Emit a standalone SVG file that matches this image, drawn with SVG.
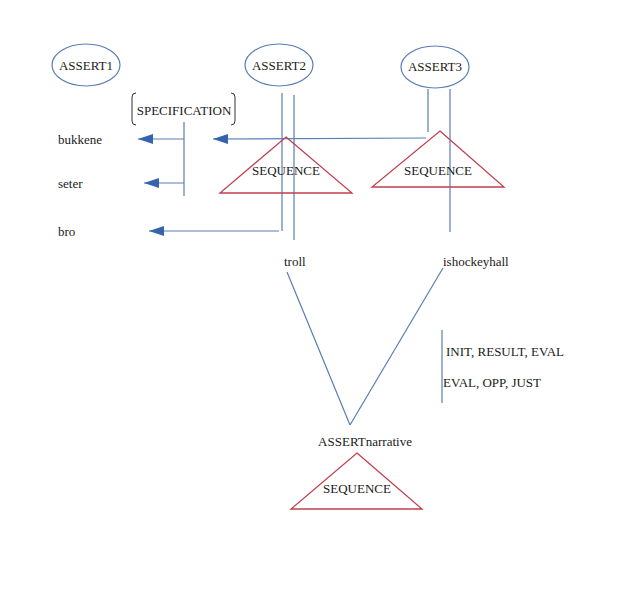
<svg xmlns="http://www.w3.org/2000/svg" width="643" height="600" viewBox="0 0 643 600">
<defs>
<marker id="ah" markerWidth="16" markerHeight="12" refX="15" refY="5" orient="auto" markerUnits="userSpaceOnUse">
<path d="M0,0 L15,5 L0,10 Z" fill="#3563ad"/>
</marker>
<style>
.t{font-family:'Liberation Serif','Times New Roman','DejaVu Serif',serif;font-size:13px;fill:#1a1a1a}
.c{text-anchor:middle}
.ln{stroke:#5a7db3;stroke-width:1.2;fill:none}
.el{stroke:#5a7db3;stroke-width:1.2;fill:#fff}
.tri{stroke:#c0404f;stroke-width:1.3;fill:none}
.arr{stroke:#5a7db3;stroke-width:1.2;fill:none;marker-end:url(#ah)}
</style>
</defs>
<rect width="643" height="600" fill="#fff"/>
<g id="connectors">
<line class="ln" x1="282" y1="93" x2="282" y2="231"/>
<line class="ln" x1="294" y1="95" x2="294" y2="240"/>
<line class="ln" x1="428" y1="89" x2="428" y2="132"/>
<line class="ln" x1="450" y1="89" x2="450" y2="232"/>
<line class="ln" x1="184" y1="122" x2="184" y2="196"/>
<line class="arr" x1="184" y1="139" x2="138" y2="139"/>
<line class="arr" x1="184" y1="183" x2="144" y2="183"/>
<line class="arr" x1="426" y1="138" x2="213" y2="139"/>
<line class="arr" x1="279" y1="231" x2="149" y2="231"/>
<line class="ln" x1="287" y1="272" x2="350" y2="425"/>
<line class="ln" x1="443" y1="268" x2="350" y2="425"/>
<line class="ln" x1="442" y1="330" x2="442" y2="403"/>
</g>
<g class="t" font-family="Liberation Serif, Times New Roman, DejaVu Serif, serif" font-size="13">
<g id="assert1"><ellipse class="el" cx="86" cy="65" rx="34" ry="21"/><text class="t c" x="86" y="70">ASSERT1</text></g>
<g id="assert2"><ellipse class="el" cx="279" cy="65" rx="34" ry="21"/><text class="t c" x="279" y="70">ASSERT2</text></g>
<g id="assert3"><ellipse class="el" cx="435" cy="67" rx="34" ry="21"/><text class="t c" x="435" y="71">ASSERT3</text></g>
<g id="specification">
<path d="M136,93 Q132,93 132,97 L132,121 Q132,125 136,125" fill="none" stroke="#333" stroke-width="1"/>
<path d="M231,93 Q235,93 235,97 L235,121 Q235,125 231,125" fill="none" stroke="#333" stroke-width="1"/>
<text class="t c" x="184" y="115">SPECIFICATION</text>
</g>
<g id="bukkene"><text class="t" x="58" y="144">bukkene</text></g>
<g id="seter"><text class="t" x="58" y="188">seter</text></g>
<g id="bro"><text class="t" x="58" y="236">bro</text></g>
<g id="sequence1"><polygon class="tri" points="286,137 352,193 220,193"/><text class="t c" x="286" y="175">SEQUENCE</text></g>
<g id="sequence2"><polygon class="tri" points="440,131 504,187 372,187"/><text class="t c" x="438" y="175">SEQUENCE</text></g>
<g id="troll"><text class="t" x="284" y="266">troll</text></g>
<g id="ishockeyhall"><text class="t" x="443" y="266">ishockeyhall</text></g>
<g id="labels">
<text class="t" x="446" y="356">INIT, RESULT, EVAL</text>
<text class="t" x="443" y="387">EVAL, OPP, JUST</text>
</g>
<g id="assertnarrative"><text class="t c" x="365" y="446">ASSERTnarrative</text></g>
<g id="sequence3"><polygon class="tri" points="357,453 422,509 291,509"/><text class="t c" x="357" y="493">SEQUENCE</text></g>
</g>
</svg>
